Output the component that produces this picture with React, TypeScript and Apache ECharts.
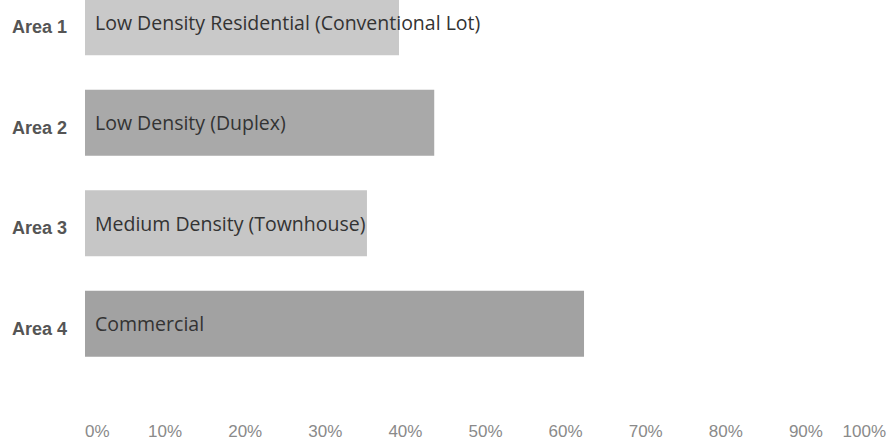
import React, { useEffect, useRef } from "react";
import * as echarts from "echarts";

const categories = ["Area 1", "Area 2", "Area 3", "Area 4"];
const barNames = [
  "Low Density Residential (Conventional Lot)",
  "Low Density (Duplex)",
  "Medium Density (Townhouse)",
  "Commercial",
];
const values = [39.2, 43.6, 35.2, 62.3];
const barColors = ["#c9c9c9", "#a9a9a9", "#c6c6c6", "#a2a2a2"];
const xTicks = { min: 0, max: 100, interval: 10 };

const OFFSET = 28;

export default function App() {
  const ref = useRef<HTMLDivElement>(null);
  useEffect(() => {
    document.body.style.margin = "0";
    const chart = echarts.init(ref.current!, null, { renderer: "svg" });
    chart.setOption({
      animation: false,
      backgroundColor: "#ffffff",
      grid: { left: 85, right: 10, top: 0, bottom: 69, containLabel: false },
      xAxis: {
        type: "value",
        min: xTicks.min,
        max: xTicks.max,
        interval: xTicks.interval,
        axisLine: { show: false },
        axisTick: { show: false },
        splitLine: { show: false },
        axisLabel: {
          formatter: "{value}%",
          color: "#8a8a8a",
          fontSize: 17,
          fontFamily: "Liberation Sans Narrow, Liberation Sans, Arial, sans-serif",
          margin: 49,
          alignMinLabel: "left",
          alignMaxLabel: "right",
        },
      },
      yAxis: {
        type: "category",
        data: categories,
        inverse: true,
        axisLine: { show: false },
        axisTick: { show: false },
        splitLine: { show: false },
        axisLabel: {
          color: "#555555",
          fontWeight: "bold",
          fontSize: 18,
          fontFamily: "Liberation Sans, Arial, sans-serif",
          margin: 18,
          verticalAlign: "top",
          lineHeight: 10,
        },
      },
      series: [
        {
          type: "bar",
          barWidth: 66,
          data: values.map((v, i) => ({
            value: v,
            name: barNames[i],
            itemStyle: { color: barColors[i] },
          })),
          label: {
            show: true,
            position: "insideLeft",
            distance: 10,
            formatter: (p: any) => barNames[p.dataIndex],
            color: "#333333",
            fontSize: 19.5,
            fontFamily: "Open Sans, sans-serif",
          },
        },
      ],
    });
    return () => chart.dispose();
  }, []);
  return (
    <div style={{ width: 896, height: 443, overflow: "hidden", position: "relative" }}>
      <div
        ref={ref}
        style={{ width: 896, height: 443 + OFFSET, position: "absolute", left: 0, top: -OFFSET }}
      />
    </div>
  );
}
